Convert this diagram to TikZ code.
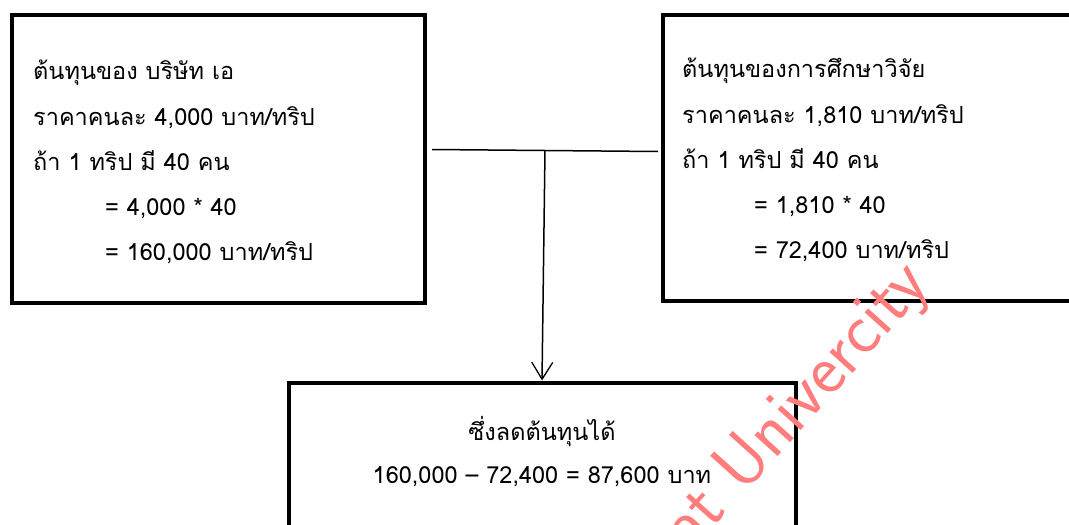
\documentclass[tikz,border=0pt]{standalone}
\usepackage{fontspec}
\newfontfamily\thaifont[Script=Thai]{Loma}
\usetikzlibrary{arrows.meta,calc,positioning}
\definecolor{markred}{RGB}{255,125,125}

\def \boxLine {4pt}
\def \indentW {72pt}

\tikzset{
  costbox/.style={draw, line width=\boxLine, inner sep=0pt},
  costtext/.style={anchor=north west, align=left, inner sep=0pt,
    font=\thaifont\fontsize{23.5}{45.2}\selectfont},
  link/.style={line width=1.5pt},
}

\begin{document}
\begin{tikzpicture}[x=1pt,y=-1pt]
  \useasboundingbox (0,0) rectangle (1069,525);
  \clip (0,0) rectangle (1069,525);

  % the two cost boxes
  \node[costbox, minimum width=413.5pt, minimum height=287.5pt] (firm) at (218.25,158.75) {};
  \node[costbox, minimum width=440pt, minimum height=286pt, anchor=west] (study) at (660.5,157.5) {};
  \node[costtext] (firmtext) at (33,60) {ต้นทุนของ บริษัท เอ\\
    ราคาคนละ 4,000 บาท/ทริป\\
    ถ้า 1 ทริป มี 40 คน\\
    \hspace*{\indentW}= 4,000 * 40\\
    \hspace*{\indentW}= 160,000 บาท/ทริป};
  \node[costtext] (studytext) at (682,58) {ต้นทุนของการศึกษาวิจัย\\
    ราคาคนละ 1,810 บาท/ทริป\\
    ถ้า 1 ทริป มี 40 คน\\
    \hspace*{\indentW}= 1,810 * 40\\
    \hspace*{\indentW}= 72,400 บาท/ทริป};

  % the saving box
  \node[costbox, minimum width=507pt, minimum height=200pt, anchor=north] (saving) at (542,380.5) {};
  \node[costtext, anchor=north, align=center, font=\thaifont\fontsize{23.5}{43}\selectfont]
    (savingtext) at (542,416) {ซึ่งลดต้นทุนได้\\
    160,000 – 72,400 = 87,600 บาท};

  % connectors
  \coordinate (lstart) at (432,149.5);
  \coordinate (lend) at (658,151.5);
  \coordinate (join) at ($(lstart)!0.5!(lend)$);
  \draw[link] (lstart) -- (lend);
  \draw[link, -{Straight Barb[length=17pt,width=21pt,line width=1.3pt]}] (join) -- (saving.north);

  % watermark
  \node[font=\sffamily\fontsize{72}{76}\selectfont, text=markred, rotate=48,
    anchor=base west, inner sep=0pt] (mark) at (690,554) {at Univercity};
\end{tikzpicture}
\end{document}
